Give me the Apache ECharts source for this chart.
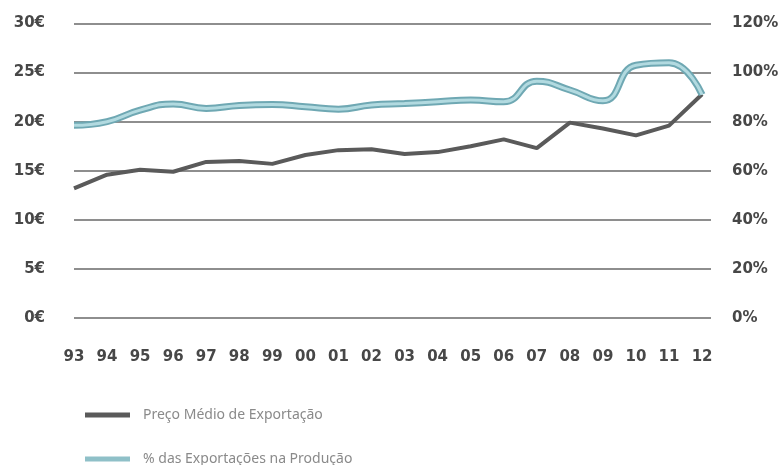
<!DOCTYPE html>
<html>
<head>
<meta charset="utf-8">
<script src="https://cdn.jsdelivr.net/npm/echarts@6/dist/echarts.min.js"></script>
<style>
  html, body { margin: 0; padding: 0; background: #fff; }
  #chart { width: 784px; height: 465px; }
</style>
</head>
<body>
<div id="chart"></div>
<script>
// Years 1993–2012
const years = [1993, 1994, 1995, 1996, 1997, 1998, 1999, 2000, 2001, 2002,
               2003, 2004, 2005, 2006, 2007, 2008, 2009, 2010, 2011, 2012];

// Average export price (€)
const precoMedio = [13.2, 14.6, 15.1, 14.9, 15.9, 16.0, 15.7, 16.6, 17.1, 17.2,
                    16.7, 16.9, 17.5, 18.2, 17.3, 19.9, 19.3, 18.6, 19.6, 22.8];

// Share of exports in production (%)
const pctExport = [78.5, 80.0, 84.7, 87.2, 85.4, 86.6, 87.0, 86.1, 85.1, 86.8,
                   87.4, 88.1, 88.8, 88.1, 96.5, 92.9, 88.5, 103.0, 104.0, 91.0];

const nameLeft = 'Preço Médio de Exportação';
const nameRight = '% das Exportações na Produção';

const toPairs = (vals) => years.map((y, i) => [y, vals[i]]);

const labelFont = {
  fontFamily: 'DejaVu Sans',
  fontWeight: 'bold',
  fontSize: 15,
  color: '#474747'
};

const legendBase = {
  orient: 'horizontal',
  left: 85,
  padding: 0,
  itemWidth: 45,
  itemHeight: 5,
  icon: 'rect',
  textStyle: { fontFamily: 'Noto Sans', fontSize: 14, color: '#8a8a8a', padding: [0, 0, 0, 8] }
};

const chart = echarts.init(document.getElementById('chart'), null, { renderer: 'canvas' });

chart.setOption({
  animation: false,
  backgroundColor: '#ffffff',
  grid: { left: 74, right: 73, top: 23.5, bottom: 147, containLabel: false },
  xAxis: {
    type: 'value',
    min: 1993,
    max: 2012.27,
    interval: 1,
    axisLine: { show: false },
    axisTick: { show: false },
    splitLine: { show: false },
    axisLabel: Object.assign({}, labelFont, {
      margin: 32,
      showMaxLabel: false,
      formatter: (v) => Number.isInteger(v) ? String(v % 100).padStart(2, '0') : ''
    })
  },
  yAxis: [
    {
      type: 'value',
      min: 0, max: 30, interval: 5,
      axisLine: { show: false },
      axisTick: { show: false },
      splitLine: { lineStyle: { color: '#8e8e8e', width: 2 } },
      axisLabel: Object.assign({}, labelFont, { margin: 29, formatter: '{value}€' })
    },
    {
      type: 'value',
      min: 0, max: 120, interval: 20,
      axisLine: { show: false },
      axisTick: { show: false },
      splitLine: { show: false },
      axisLabel: Object.assign({}, labelFont, { margin: 21, formatter: '{value}%' })
    }
  ],
  legend: [
    Object.assign({}, legendBase, {
      top: 408,
      data: [{ name: nameLeft, itemStyle: { color: '#5a5a5a' } }]
    }),
    Object.assign({}, legendBase, {
      top: 452,
      data: [{ name: nameRight, itemStyle: { color: '#8fc0c8' } }]
    })
  ],
  series: [
    {
      name: nameLeft,
      type: 'line',
      yAxisIndex: 0,
      data: toPairs(precoMedio),
      showSymbol: false,
      lineStyle: { color: '#5a5a5a', width: 4 },
      itemStyle: { color: '#5a5a5a' },
      z: 3
    },
    {
      name: nameRight,
      type: 'line',
      yAxisIndex: 1,
      data: toPairs(pctExport),
      smooth: 0.5,
      showSymbol: false,
      lineStyle: { color: '#6fa8b3', width: 7 },
      itemStyle: { color: '#8fc0c8' },
      z: 4
    },
    {
      // lighter core of the percentage line
      type: 'line',
      yAxisIndex: 1,
      data: toPairs(pctExport),
      smooth: 0.5,
      showSymbol: false,
      silent: true,
      lineStyle: { color: '#b2dae0', width: 3 },
      z: 5
    }
  ]
});
</script>
</body>
</html>
